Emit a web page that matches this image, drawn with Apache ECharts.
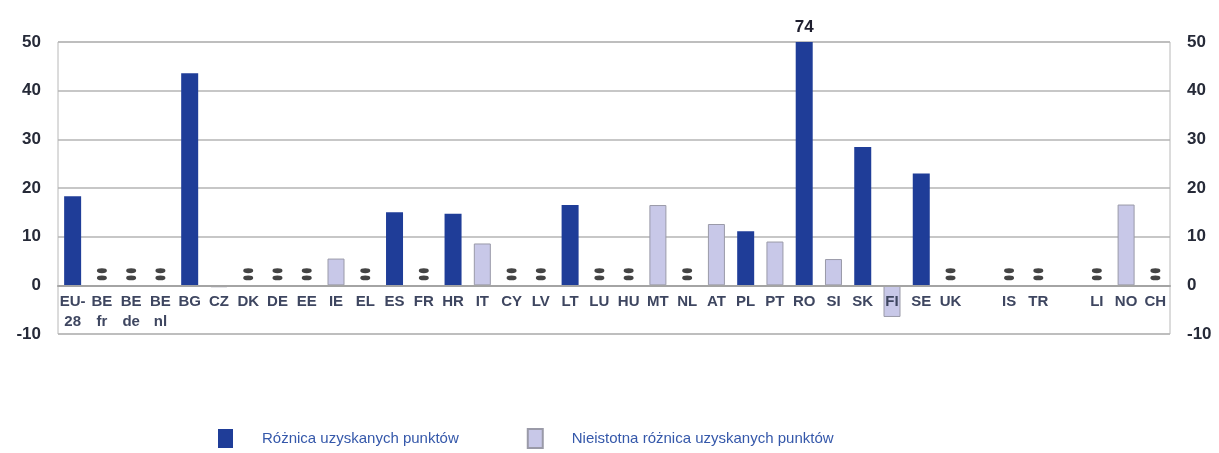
<!DOCTYPE html>
<html>
<head>
<meta charset="utf-8">
<script src="https://cdn.jsdelivr.net/npm/echarts@6/dist/echarts.min.js"></script>
<style>
html,body{margin:0;padding:0;background:#fff;}
#chart{width:1219px;height:453px;}
</style>
</head>
<body>
<div id="chart"></div>
<script>
const categories = ['EU-\n28','BE\nfr','BE\nde','BE\nnl','BG','CZ','DK','DE','EE','IE','EL','ES','FR','HR','IT','CY','LV','LT','LU','HU','MT','NL','AT','PL','PT','RO','SI','SK','FI','SE','UK',' ','IS','TR','  ','LI','NO','CH'];
const significant = [18.3,null,null,null,43.6,null,null,null,null,null,null,15.0,null,14.7,null,null,null,16.5,null,null,null,null,null,11.1,null,74,null,28.4,null,23.0,null,null,null,null,null,null,null,null];
const notSignificant = [null,null,null,null,null,-0.4,null,null,null,5.5,null,null,null,null,8.6,null,null,null,null,null,16.5,null,12.6,null,9.0,null,5.4,null,-6.5,null,null,null,null,null,null,null,16.6,null];
const missing = ['BE\nfr','BE\nde','BE\nnl','DK','DE','EE','EL','FR','CY','LV','LU','HU','NL','UK','IS','TR','LI','CH'];
const yTicks = [-10,0,10,20,30,40,50];
const seriesNames = ['Różnica uzyskanych punktów','Nieistotna różnica uzyskanych punktów'];

const yMin = yTicks[0], yMax = yTicks[yTicks.length-1];
const clipData = arr => arr.map(v => v == null ? null : {value: Math.min(v, yMax), raw: v});

const W = 1219, H = 453;
const gridL = 58, gridR = 49, gridT = 42, gridB = 119;
const gridH = H - gridT - gridB;
const zeroOffset = -gridH * (0 - yMin) / (yMax - yMin);
const font = 'Liberation Sans, Arial, sans-serif';

const chart = echarts.init(document.getElementById('chart'));
const yAxisCommon = {
  type:'value', min:yMin, max:yMax, interval:10,
  axisLine:{show:false}, axisTick:{show:false},
  axisLabel:{color:'#262a38', fontSize:17, fontWeight:'bold', fontFamily:font, margin:17}
};
chart.setOption({
  animation:false,
  grid:{left:gridL, right:gridR, top:gridT, bottom:gridB, show:true, borderColor:'#b8b8b8', borderWidth:1},
  legend:{
    left:218, top:428, padding:0, itemWidth:15, itemHeight:19, itemGap:68,
    textStyle:{color:'#3558aa', fontSize:15, fontFamily:font, padding:[0,0,0,24]},
    data:[{name:seriesNames[0], icon:'rect'},{name:seriesNames[1], icon:'rect'}]
  },
  xAxis:{
    type:'category', data:categories, z:10, position:'bottom', offset:zeroOffset,
    axisLine:{onZero:false, lineStyle:{color:'#a4a4a4', width:2}},
    axisTick:{show:false},
    axisLabel:{interval:0, color:'#3e4660', fontSize:15, fontWeight:'bold', fontFamily:font, margin:7, lineHeight:20}
  },
  yAxis:[
    Object.assign({}, yAxisCommon, {position:'left', splitLine:{show:true, lineStyle:{color:'#b4b4b4', width:1.5}}}),
    Object.assign({}, yAxisCommon, {position:'right', splitLine:{show:false}})
  ],
  series:[
    {
      name:seriesNames[0], type:'bar', data:clipData(significant), barWidth:17, barGap:'-100%',
      itemStyle:{color:'#1f3d98'},
      label:{show:true, position:'top', distance:6, color:'#1e1e2e', fontSize:17, fontWeight:'bold', fontFamily:font,
        formatter:p => (p.data && p.data.raw > yMax) ? String(p.data.raw) : ''}
    },
    {
      name:seriesNames[1], type:'bar', data:clipData(notSignificant), barWidth:17, barGap:'-100%',
      itemStyle:{color:'#c8c8e8', borderColor:'#9a9aa8', borderWidth:1}
    },
    {
      name:'missing', type:'scatter', data:missing.map(c => [c, 0]),
      symbol:'path://M0,2.4a5,2.4 0 1,0 10,0a5,2.4 0 1,0 -10,0M0,9.6a5,2.4 0 1,0 10,0a5,2.4 0 1,0 -10,0',
      symbolSize:[10,12], symbolOffset:[0,-11], itemStyle:{color:'#151515'}, z:5
    }
  ]
});
</script>
</body>
</html>
